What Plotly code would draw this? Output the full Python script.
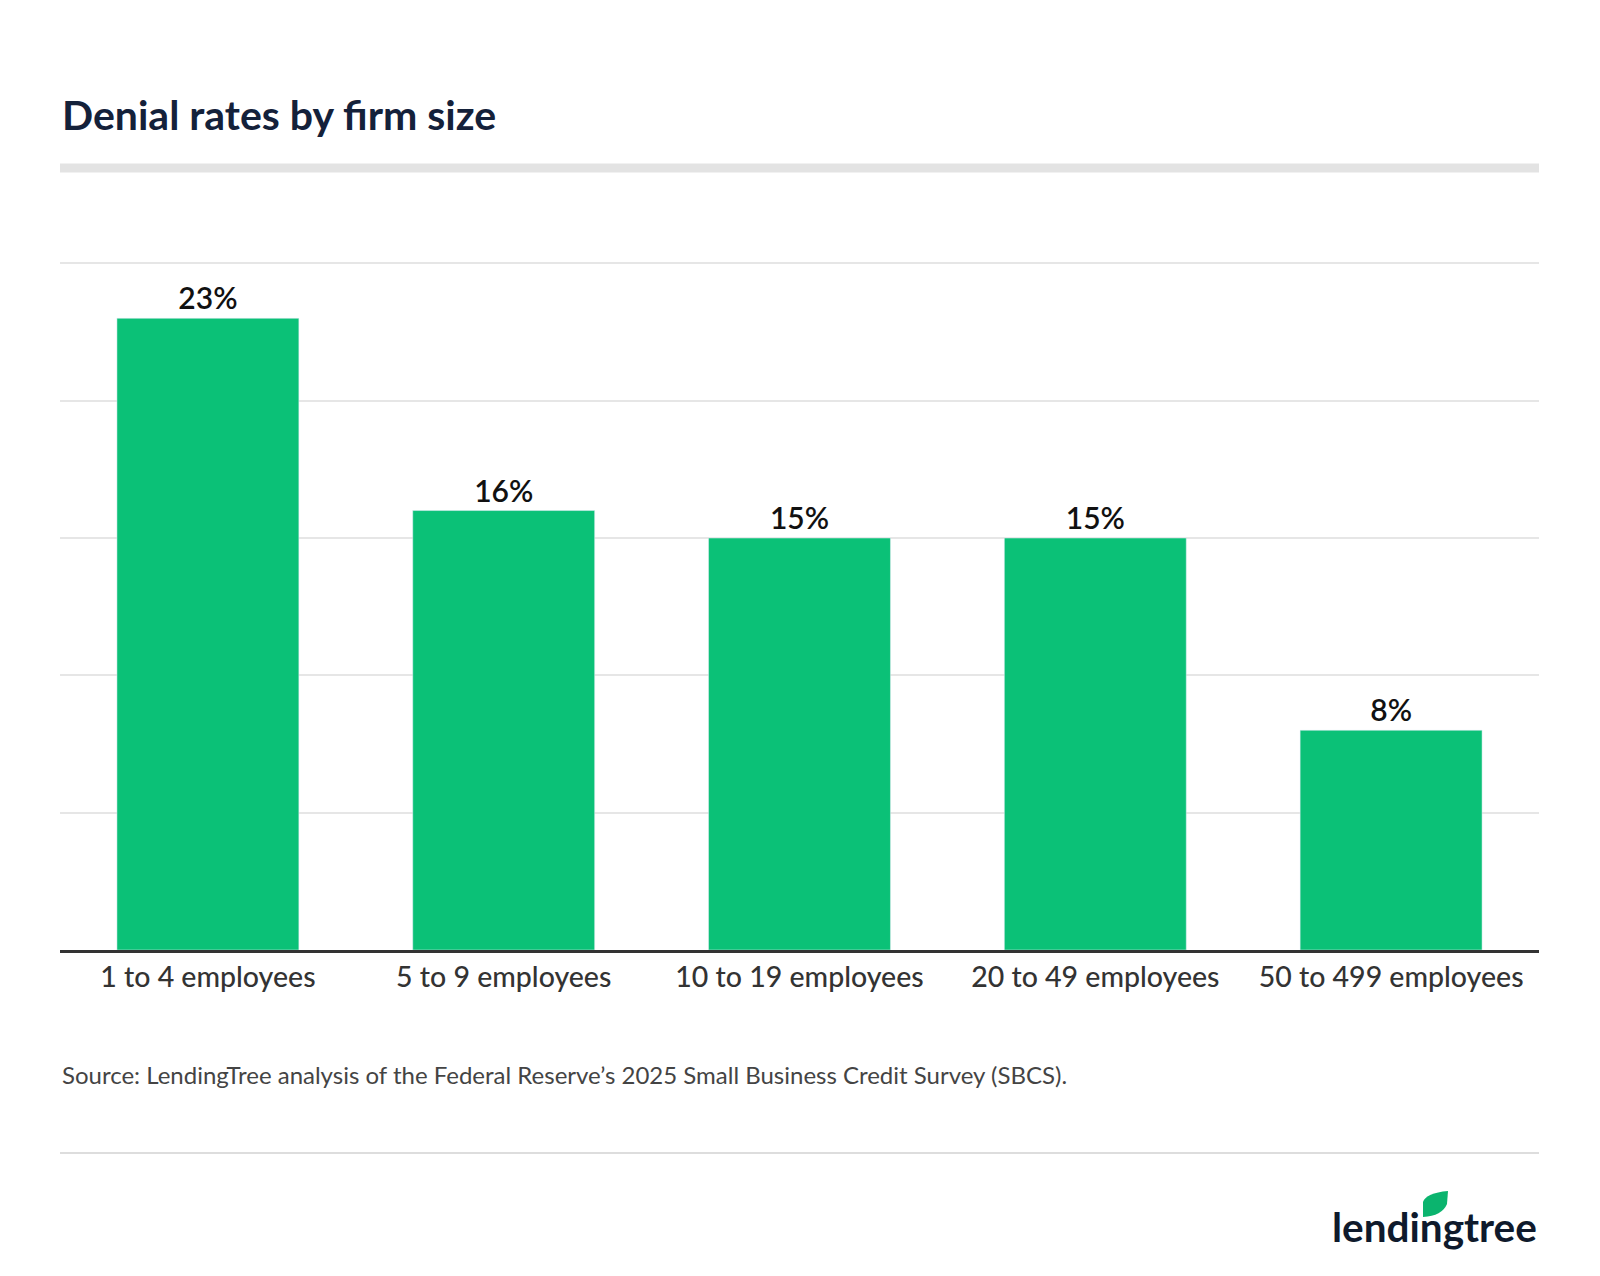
import plotly.graph_objects as go

categories = ["1 to 4 employees", "5 to 9 employees", "10 to 19 employees",
              "20 to 49 employees", "50 to 499 employees"]
rates = [23, 16, 15, 15, 8]
labels = ["23%", "16%", "15%", "15%", "8%"]

W, H = 1600, 1276
L, R, T, B = 52, 69, 254, 334

def px(x):
    return (x - L) / (W - L - R)

def py(y):
    return (H - B - y) / (H - T - B)

fig = go.Figure(go.Bar(
    x=categories, y=rates, text=labels, textposition="outside",
    marker_color="#0bc177", cliponaxis=False,
    textfont=dict(family="Lato", size=30, color="#111111", weight=600),
))

fig.update_layout(
    width=W, height=H, margin=dict(l=L, r=R, t=T, b=B),
    plot_bgcolor="white", paper_bgcolor="white", bargap=0.385,
    showlegend=False, font=dict(family="Lato"),
)
fig.update_yaxes(range=[0, 25.05], tickvals=[5, 10, 15, 20, 25], showticklabels=False,
                 gridcolor="#e6e6e6", gridwidth=1.5, zeroline=False)
fig.update_xaxes(showline=True, linecolor="#333333", linewidth=3,
                 tickfont=dict(family="Lato", size=28.5, color="#333333", weight=500),
                 ticks="", ticklabelstandoff=0)

fig.add_annotation(text="<b>Denial rates by firm size</b>", xref="paper", yref="paper",
                   x=px(52), y=py(107), xanchor="left", yanchor="middle", showarrow=False,
                   font=dict(family="Lato", size=41, color="#14213a"))
fig.add_shape(type="line", xref="paper", yref="paper", x0=px(52), x1=px(1531),
              y0=py(160), y1=py(160), line=dict(color="#e3e3e3", width=9))
fig.add_annotation(text="Source: LendingTree analysis of the Federal Reserve’s 2025 Small Business Credit Survey (SBCS).",
                   xref="paper", yref="paper", x=px(52), y=py(1066), xanchor="left",
                   yanchor="middle", showarrow=False,
                   font=dict(family="Lato", size=24, color="#444444"))
fig.add_shape(type="line", xref="paper", yref="paper", x0=px(52), x1=px(1531),
              y0=py(1145), y1=py(1145), line=dict(color="#dddddd", width=2))
fig.add_annotation(text="<b>lendingtree</b>", xref="paper", yref="paper",
                   x=px(1531), y=py(1218), xanchor="right", yanchor="middle", showarrow=False,
                   font=dict(family="Lato", size=40.5, color="#0f1a2c"))
# leaf on the logo
fig.add_shape(type="path", xref="paper", yref="paper",
              path=f"M {px(1415)} {py(1209)} L {px(1415)} {py(1194)} Q {px(1418)} {py(1185)} {px(1440)} {py(1183)} "
                   f"L {px(1439)} {py(1196)} Q {px(1434)} {py(1208)} {px(1415)} {py(1209)} Z",
              fillcolor="#0bb46e", line=dict(width=0))

fig.write_html("out.html")
